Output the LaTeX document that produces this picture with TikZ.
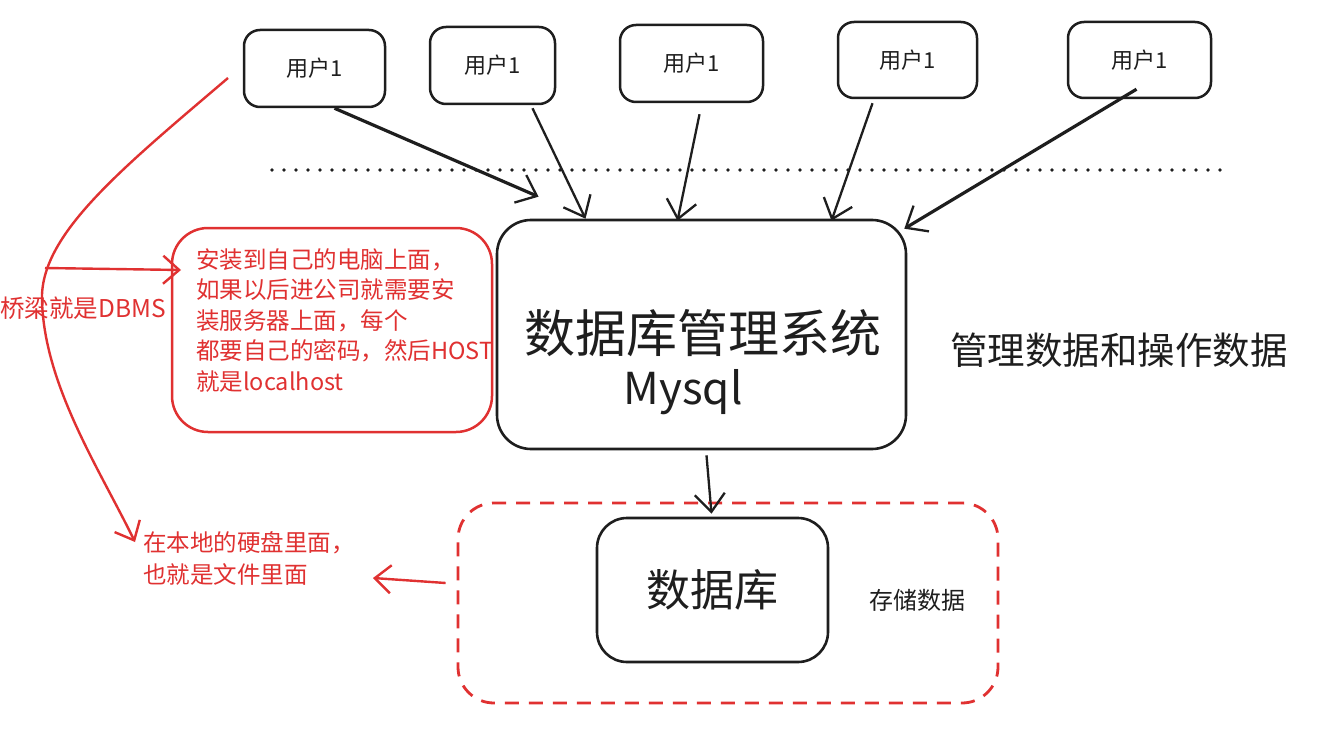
\documentclass[tikz,border=0pt]{standalone}
\usepackage{fontspec}
\newfontfamily\cjk{Noto Sans CJK SC}
\usetikzlibrary{arrows.meta,calc}
\definecolor{ink}{HTML}{1E1E1E}
\definecolor{redink}{HTML}{E03131}
\tikzset{
  x=1pt,y=-1pt,
  userbox/.style={draw=ink,line width=2.5pt,rounded corners=16pt,minimum width=141pt,minimum height=77pt,inner sep=0pt,font=\cjk\fontsize{22}{26}\selectfont,text=ink},
  bigbox/.style={draw=ink,line width=2.6pt,rounded corners=34pt,inner sep=0pt},
  redbox/.style={draw=redink,line width=2.5pt,rounded corners=36pt,inner sep=0pt},
  dashbox/.style={draw=redink,line width=2.8pt,rounded corners=36pt,dash pattern=on 14pt off 10pt,inner sep=0pt},
  arr/.style={draw=ink,line width=2.3pt,-{Straight Barb[length=18pt,width=30pt,line width=2.3pt]}},
  thickarr/.style={arr,line width=3.2pt},
  redarr/.style={draw=redink,line width=2.4pt,-{Straight Barb[length=16pt,width=28pt,line width=2.4pt]}},
  redtext/.style={font=\cjk\fontsize{23.5}{30.5}\selectfont,text=redink,inner sep=0pt,align=left},
  blacktext/.style={font=\cjk,text=ink,inner sep=0pt},
}
\begin{document}
\begin{tikzpicture}
\useasboundingbox[fill=white] (0,0) rectangle (1323,733);
% user boxes
\node[userbox] (u1) at (314.5,68.5) {用户1};
\node[userbox,minimum width=125pt] (u2) at (492.5,65.5) {用户1};
\node[userbox,minimum width=143pt] (u3) at (691.5,63.5) {用户1};
\node[userbox,minimum width=139pt,minimum height=76pt] (u4) at (907.5,60) {用户1};
\node[userbox,minimum width=143pt,minimum height=76pt] (u5) at (1139.5,60) {用户1};
% dotted line
\coordinate (dl) at (272,170);
\coordinate (dr) at (1228,170);
\draw[ink,line width=3.8pt,line cap=round,dash pattern=on 0pt off 12pt] (dl) -- (dr);
% main box
\node[bigbox,minimum width=409pt,minimum height=229pt] (main) at (701.5,334.5) {};
\node[blacktext,font=\cjk\fontsize{51}{56}\selectfont] (mtitle) at (703,333) {数据库管理系统};
\node[blacktext,font=\cjk\fontsize{44}{48}\selectfont] (mysql) at (683,392) {Mysql};
\node[blacktext,font=\cjk\fontsize{37.5}{40}\selectfont,anchor=west] (manage) at (950,350) {管理数据和操作数据};
% user arrows
\draw[thickarr] ([xshift=20pt]u1.south) -- ([xshift=-163pt,yshift=22pt]main.north);
\draw[arr] ([xshift=40pt,yshift=-3pt]u2.south) -- ([xshift=-116pt]main.north);
\draw[arr] ([xshift=8pt,yshift=-11pt]u3.south) -- ([xshift=-24pt,yshift=-2pt]main.north);
\draw[arr] ([xshift=-35pt,yshift=-4pt]u4.south) -- ([xshift=130pt,yshift=-2pt]main.north);
\draw[thickarr] ([xshift=-3pt,yshift=10pt]u5.south) -- ([xshift=-3pt,yshift=-10pt]main.north east);
% storage
\node[dashbox,minimum width=540pt,minimum height=200pt] (store) at (728,603) {};
\node[bigbox,rounded corners=30pt,minimum width=231pt,minimum height=144pt,font=\cjk\fontsize{44}{48}\selectfont,text=ink] (db) at (712.5,590) {数据库};
\node[blacktext,font=\cjk\fontsize{24}{26}\selectfont] (save) at (917,600) {存储数据};
\draw[arr] ([xshift=5pt,yshift=-5pt]main.south) -- ([xshift=-1pt,yshift=3pt]db.north);
% red notes
\node[redbox,minimum width=320pt,minimum height=204pt] (note) at (332,330) {};
\node[redtext,anchor=north west] (notetext) at (196,248) {安装到自己的电脑上面，\\如果以后进公司就需要安\\装服务器上面，每个\\都要自己的密码，然后HOST\\就是localhost};
\node[redtext,anchor=west,font=\cjk\fontsize{24.5}{30}\selectfont] (bridge) at (0,308) {桥梁就是DBMS};
\node[redtext,anchor=north west,font=\cjk\fontsize{23.5}{32}\selectfont] (local) at (143,531) {在本地的硬盘里面，\\也就是文件里面};
\coordinate (hstart) at (45,268);
\coordinate (htip) at (181,270);
\draw[redarr] (hstart) -- (htip);
\coordinate (ltip) at (373,578);
\draw[redarr] ([xshift=-11pt,yshift=20pt]store.west) -- (ltip);
\coordinate (cstart) at (228,78);
\coordinate (cmid) at (42,300);
\coordinate (cend) at (135,542);
\draw[redarr] (cstart) .. controls (120,170) and (40,235) .. (cmid) .. controls (44,385) and (100,470) .. (cend);
\end{tikzpicture}
\end{document}
